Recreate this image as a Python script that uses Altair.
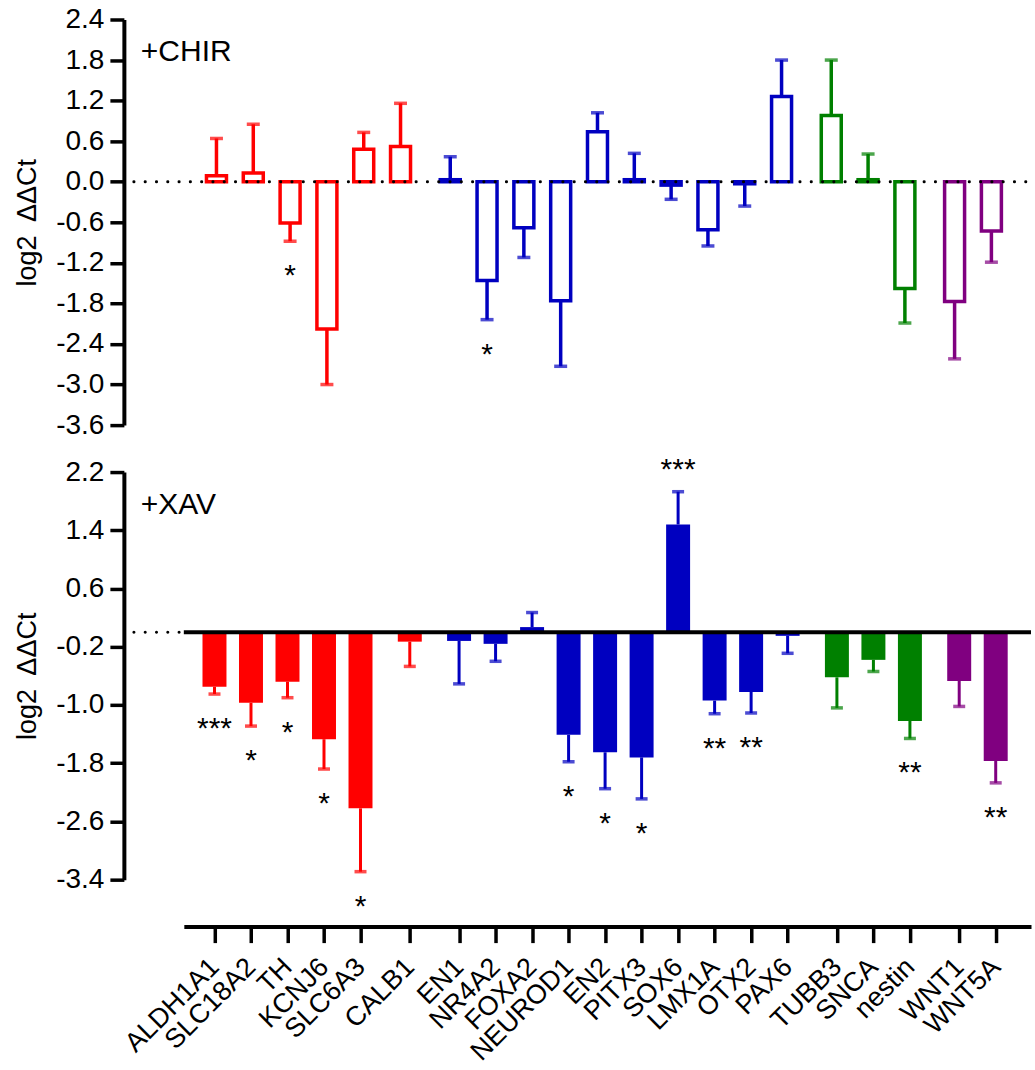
import altair as alt
import pandas as pd

# ---------------- data ----------------
genes = ["ALDH1A1", "SLC18A2", "TH", "KCNJ6", "SLC6A3", "CALB1",
         "EN1", "NR4A2", "FOXA2", "NEUROD1", "EN2", "PITX3", "SOX6", "LMX1A", "OTX2", "PAX6",
         "TUBB3", "SNCA", "nestin",
         "WNT1", "WNT5A"]
family = ["dopaminergic"] * 6 + ["midbrain"] * 10 + ["neural"] * 3 + ["wnt"] * 2
# group index of each gene in each panel (groups are separated by a small gap)
top_group = [0] * 6 + [1] * 10 + [2] * 3 + [3] * 2
bottom_group = [0] * 5 + [1] + [2] * 10 + [3] * 3 + [4] * 2

chir_mean = [0.09, 0.13, -0.61, -2.18, 0.48, 0.52,
             0.03, -1.46, -0.68, -1.76, 0.74, 0.03, -0.05, -0.71, -0.03, 1.26,
             0.98, 0.03, -1.58,
             -1.77, -0.73]
chir_sem = [0.55, 0.72, 0.27, 0.82, 0.25, 0.64,
            0.34, 0.58, 0.44, 0.97, 0.28, 0.39, 0.21, 0.24, 0.33, 0.54,
            0.82, 0.38, 0.51,
            0.85, 0.46]
chir_sig = ["", "", "*", "", "", "",
            "", "*", "", "", "", "", "", "", "", "",
            "", "", "",
            "", ""]

xav_mean = [-0.75, -0.97, -0.68, -1.47, -2.42, -0.13,
            -0.12, -0.16, 0.07, -1.41, -1.65, -1.72, 1.48, -0.94, -0.82, -0.05,
            -0.62, -0.38, -1.22,
            -0.67, -1.77]
xav_sem = [0.10, 0.32, 0.22, 0.41, 0.87, 0.34,
           0.59, 0.24, 0.20, 0.37, 0.50, 0.57, 0.45, 0.18, 0.29, 0.24,
           0.42, 0.16, 0.24,
           0.35, 0.30]
xav_sig = ["***", "*", "*", "*", "*", "",
           "", "", "", "*", "*", "*", "***", "**", "**", "",
           "", "", "**",
           "", "**"]

chir_ticks = [2.4, 1.8, 1.2, 0.6, 0.0, -0.6, -1.2, -1.8, -2.4, -3.0, -3.6]
xav_ticks = [2.2, 1.4, 0.6, -0.2, -1.0, -1.8, -2.6, -3.4]

family_names = ["dopaminergic", "midbrain", "neural", "wnt"]
family_colors = ["#FF0000", "#0000C0", "#008000", "#800080"]

# ---------------- layout constants ----------------
GAP = 0.35          # extra gap (in slots) between gene groups
W = 848
H_TOP = 406
H_BOT = 408
FONT = "Liberation Sans"


def build(mean, sem, sig, group):
    rows = []
    for i, g in enumerate(genes):
        m = mean[i]
        s = sem[i]
        end = m + s if m >= 0 else m - s
        rows.append(dict(gene=g, family=family[i], pos=i + GAP * group[i],
                         mean=m, end=end, sig=sig[i]))
    return pd.DataFrame(rows)


top_df = build(chir_mean, chir_sem, chir_sig, top_group)
bot_df = build(xav_mean, xav_sem, xav_sig, bottom_group)

color_scale = alt.Scale(domain=family_names, range=family_colors)

minus_fix = "replace(format(datum.value, '.1f'), '\u2212', '-')"


def y_axis(ticks):
    return alt.Axis(values=ticks, labelExpr=minus_fix, grid=False, offset=60,
                    tickSize=14, tickWidth=3.5, tickColor="black",
                    domainWidth=4, domainColor="black",
                    labelFont=FONT, labelFontSize=28, labelColor="black", labelPadding=6,
                    title="log2\u2002\u0394\u0394Ct", titleFont=FONT, titleFontSize=27,
                    titleFontWeight="normal", titleColor="black", titlePadding=14)


# x axis labels via position thresholds
bot_pos = list(bot_df["pos"])
expr = ""
for i in range(len(genes) - 1):
    mid = (bot_pos[i] + bot_pos[i + 1]) / 2
    expr += f"datum.value < {mid:.3f} ? '{genes[i]}' : "
expr += f"'{genes[-1]}'"

x_top = alt.X("pos:Q", scale=alt.Scale(domain=[-0.751, 21.99], nice=False, zero=False), axis=None)
x_bot = alt.X("pos:Q", scale=alt.Scale(domain=[-0.703, 22.23], nice=False, zero=False),
              axis=alt.Axis(values=bot_pos, labelExpr=expr, grid=False, offset=47,
                            tickSize=16, tickWidth=3.5, tickColor="black",
                            domainWidth=4, domainColor="black",
                            labelAngle=-45, labelAlign="right", labelBaseline="middle",
                            labelFont=FONT, labelFontSize=27, labelColor="black",
                            labelPadding=20, labelOverlap=False, labelFlush=False,
                            labelBound=False, title=None))

y_top_scale = alt.Scale(domain=[-3.6, 2.4], nice=False, zero=False)
y_bot_scale = alt.Scale(domain=[-3.4, 2.2], nice=False, zero=False)

one = pd.DataFrame({"k": [0]})

# ---------------- top panel (+CHIR) ----------------
yT = alt.Y("mean:Q", scale=y_top_scale, axis=y_axis(chir_ticks))
colT = alt.Color("family:N", scale=color_scale, legend=None)
strokeT = alt.Stroke("family:N", scale=color_scale, legend=None)

top_bars = alt.Chart(top_df).mark_bar(size=20, fill="white", strokeWidth=3.5).encode(
    x=x_top, y=yT, y2=alt.datum(0), stroke=strokeT)
top_stem = alt.Chart(top_df).mark_rule(strokeWidth=3.5).encode(
    x=x_top, y=yT, y2="end:Q", color=colT)
top_cap = alt.Chart(top_df).mark_tick(orient="horizontal", size=13, thickness=3.5).encode(
    x=x_top, y=alt.Y("end:Q", scale=y_top_scale), color=colT)
top_zero = alt.Chart(one).mark_rule(color="black", strokeWidth=3, strokeCap="round",
                                    strokeDash=[0.1, 11.2]).encode(
    x=alt.value(-50), x2=alt.value(W), y=alt.datum(0))
top_sig = alt.Chart(top_df).transform_filter("datum.sig != '' && datum.mean < 0").mark_text(
    font=FONT, fontSize=30, color="black", baseline="middle", dy=35).encode(
    x=x_top, y=alt.Y("end:Q", scale=y_top_scale), text="sig:N")
top_label = alt.Chart(one).mark_text(font=FONT, fontSize=30, color="black", align="left",
                                     baseline="middle", text="+CHIR").encode(
    x=alt.value(-43), y=alt.value(33))

top = alt.layer(top_bars, top_stem, top_cap, top_zero, top_sig, top_label).properties(
    width=W, height=H_TOP)

# ---------------- bottom panel (+XAV) ----------------
yB = alt.Y("mean:Q", scale=y_bot_scale, axis=y_axis(xav_ticks))
colB = alt.Color("family:N", scale=color_scale, legend=None)

bot_bars = alt.Chart(bot_df).mark_bar(size=24).encode(
    x=x_bot, y=yB, y2=alt.datum(0), color=colB)
bot_stem = alt.Chart(bot_df).mark_rule(strokeWidth=3).encode(
    x=x_bot, y=yB, y2="end:Q", color=colB)
bot_cap = alt.Chart(bot_df).mark_tick(orient="horizontal", size=12, thickness=3.5).encode(
    x=x_bot, y=alt.Y("end:Q", scale=y_bot_scale), color=colB)
bot_dots = alt.Chart(one).mark_rule(color="black", strokeWidth=3, strokeCap="round",
                                    strokeDash=[0.1, 11.2]).encode(
    x=alt.value(-50), x2=alt.value(0), y=alt.datum(0))
bot_zero = alt.Chart(one).mark_rule(color="black", strokeWidth=4).encode(
    x=alt.value(0), x2=alt.value(W), y=alt.datum(0))
bot_sig_dn = alt.Chart(bot_df).transform_filter("datum.sig != '' && datum.mean < 0").mark_text(
    font=FONT, fontSize=30, color="black", baseline="middle", dy=35).encode(
    x=x_bot, y=alt.Y("end:Q", scale=y_bot_scale), text="sig:N")
bot_sig_up = alt.Chart(bot_df).transform_filter("datum.sig != '' && datum.mean >= 0").mark_text(
    font=FONT, fontSize=30, color="black", baseline="middle", dy=-22).encode(
    x=x_bot, y=alt.Y("end:Q", scale=y_bot_scale), text="sig:N")
bot_label = alt.Chart(one).mark_text(font=FONT, fontSize=30, color="black", align="left",
                                     baseline="middle", text="+XAV").encode(
    x=alt.value(-43), y=alt.value(33))

bottom = alt.layer(bot_bars, bot_stem, bot_cap, bot_dots, bot_zero,
                   bot_sig_dn, bot_sig_up, bot_label).properties(width=W, height=H_BOT)

chart = alt.vconcat(top, bottom, spacing=47, bounds="flush").resolve_scale(
    x="independent", y="independent", color="shared", stroke="shared"
).properties(
    padding={"left": 13, "top": 5, "right": 2, "bottom": 4},
    background="white"
).configure_view(strokeWidth=0, stroke="transparent")

chart.save("out.html", embed_options={"renderer": "svg", "actions": False})
